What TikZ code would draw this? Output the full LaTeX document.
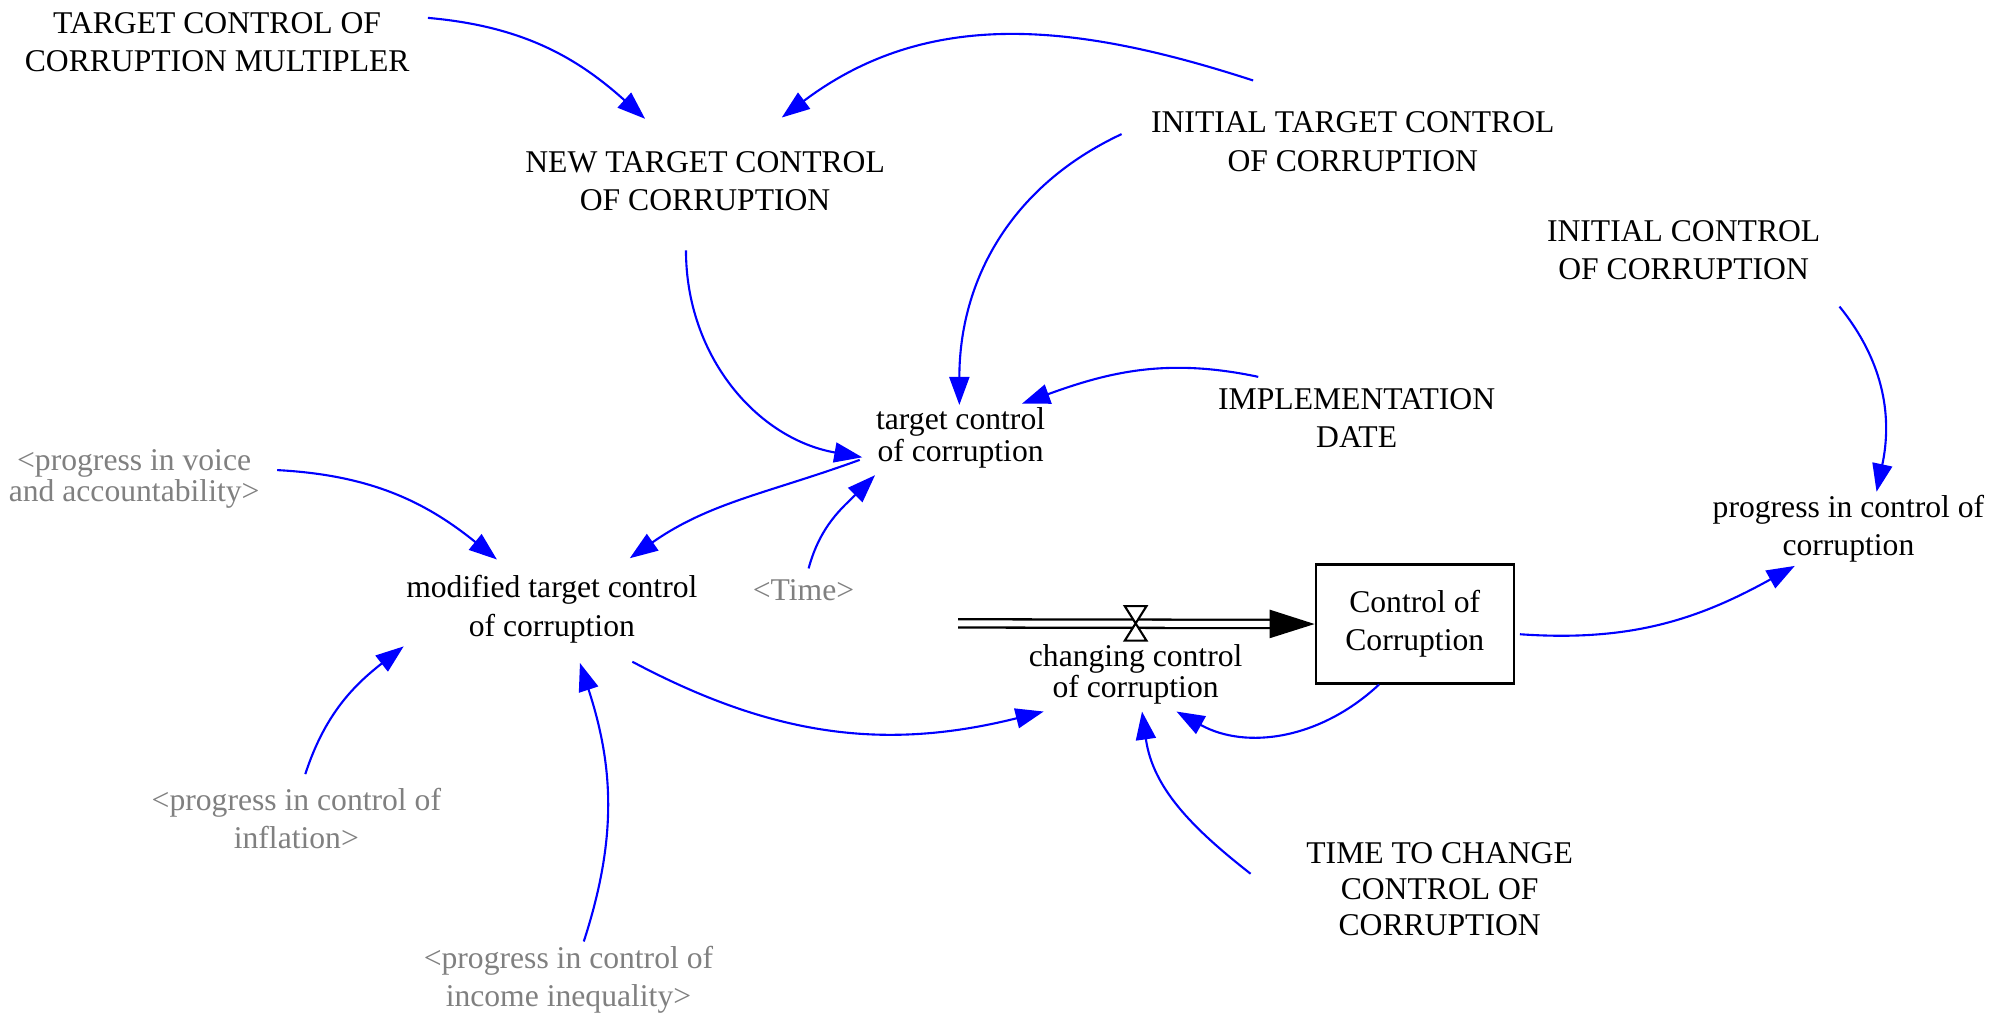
\documentclass[tikz,border=0pt]{standalone}
\usepackage{fontspec}
\setmainfont{Liberation Serif}
\usetikzlibrary{arrows.meta}
\definecolor{ghost}{RGB}{128,128,128}
\tikzset{
    var/.style = { align=center, font=\fontsize{9}{10.9}\selectfont, inner sep=2pt },
    tight/.style = { font=\fontsize{9}{9}\selectfont },
    ghostvar/.style = { var, text=ghost },
    stock/.style = { draw, line width=0.6pt, minimum width=1.98cm, minimum height=1.19cm, align=center, font=\fontsize{9}{10.9}\selectfont },
    link/.style = { blue, line width=0.6pt, -{Triangle[length=2.8mm, width=2mm]} },
    pipe/.style = { double, double distance=1.7pt, line width=0.65pt, -{Triangle[length=4.5mm, width=2.8mm]} },
    valve/.style = { fill=white, draw, line width=0.6pt }
}

\begin{document}
\begin{tikzpicture}[x=0.012774cm, y=0.012774cm]
    \useasboundingbox (0,0) rectangle (1568,797);

    %%%
    %%% Constants
    %%%
    \node[var] (tccm) at (170,764)  {TARGET CONTROL OF\\CORRUPTION MULTIPLER};
    \node[var] (ntcc) at (552,655)  {NEW TARGET CONTROL\\OF CORRUPTION};
    \node[var] (itcc) at (1059,686) {INITIAL TARGET CONTROL\\OF CORRUPTION};
    \node[var] (icc)  at (1318,601) {INITIAL CONTROL\\OF CORRUPTION};
    \node[var] (impl) at (1062,470) {IMPLEMENTATION\\DATE};
    \node[var, font=\fontsize{9}{10.2}\selectfont] (ttc) at (1127,101) {TIME TO CHANGE\\CONTROL OF\\CORRUPTION};

    %%%
    %%% Auxiliaries
    %%%
    \node[var, tight] (tcc)  at (752,454)  {target control\\of corruption};
    \node[var] (mtcc) at (432,320)  {modified target control\\of corruption};
    \node[var] (pcc)  at (1447,383) {progress in control of\\corruption};

    % Shadow variables
    \node[ghostvar, tight] (voice) at (105,422) {<progress in voice\\and accountability>};
    \node[ghostvar] (time)      at (629,335) {<Time>};
    \node[ghostvar] (inflation) at (232,156) {<progress in control of\\inflation>};
    \node[ghostvar] (income)    at (445,30)  {<progress in control of\\income inequality>};

    %%%
    %%% Stock and flow
    %%%
    \node[stock] (coc) at (1107.5,308.5) {Control of\\Corruption};
    \coordinate (src)   at (750,309);
    \coordinate (valve) at (889,309);
    \node[var, tight] (ccc) at (889,269) {changing control\\of corruption};
    \draw[pipe] (src) -- (coc.west);
    \draw[valve] (valve) ++(-8.5,13.5) -- ++(17,0) -- ++(-17,-27) -- ++(17,0) -- cycle;

    %%%
    %%% Links
    %%%
    \draw[link] ([shift={(165,19)}]tccm.center)  to[out=-5, in=138]  ([shift={(-47,49)}]ntcc.center);
    \draw[link] ([shift={(-78,48)}]itcc.center)  to[out=162, in=37]  ([shift={(60,50)}]ntcc.center);
    \draw[link] ([shift={(-181,6)}]itcc.center)  to[out=205, in=90]  ([shift={(-1,26)}]tcc.center);
    \draw[link] ([shift={(-15,-54)}]ntcc.center) to[out=-90, in=170] ([shift={(-77,-15)}]tcc.center);
    \draw[link] ([shift={(-77,32)}]impl.center)  to[out=168, in=20]  ([shift={(48,27)}]tcc.center);
    \draw[link] ([shift={(-79,-17)}]tcc.center)  to[out=200, in=35]  ([shift={(61,40)}]mtcc.center);
    \draw[link] ([shift={(112,7)}]voice.center)  to[out=-3, in=141]  ([shift={(-43,39)}]mtcc.center);
    \draw[link] ([shift={(4,17)}]time.center)    to[out=75, in=225]  ([shift={(-67,-29)}]tcc.center);
    \draw[link] ([shift={(7,35)}]inflation.center) to[out=72, in=218] ([shift={(-116,-29)}]mtcc.center);
    \draw[link] ([shift={(12,30)}]income.center) to[out=72, in=-72]  ([shift={(22,-42)}]mtcc.center);
    \draw[link] ([shift={(63,-41)}]mtcc.center)  to[out=-28, in=194] ([shift={(-72,-29)}]ccc.center);
    \draw[link] ([shift={(-28,0)}]coc.south)     to[out=223, in=-29] ([shift={(32,-29)}]ccc.center);
    \draw[link] ([shift={(-148,12)}]ttc.center)  to[out=142, in=278] ([shift={(5,-29)}]ccc.center);
    \draw[link] ([shift={(4,-8)}]coc.east)       to[out=-4, in=209]  ([shift={(-42,-29)}]pcc.center);
    \draw[link] ([shift={(122,-44)}]icc.center)  to[out=-51, in=78]  ([shift={(22,29)}]pcc.center);
\end{tikzpicture}
\end{document}
